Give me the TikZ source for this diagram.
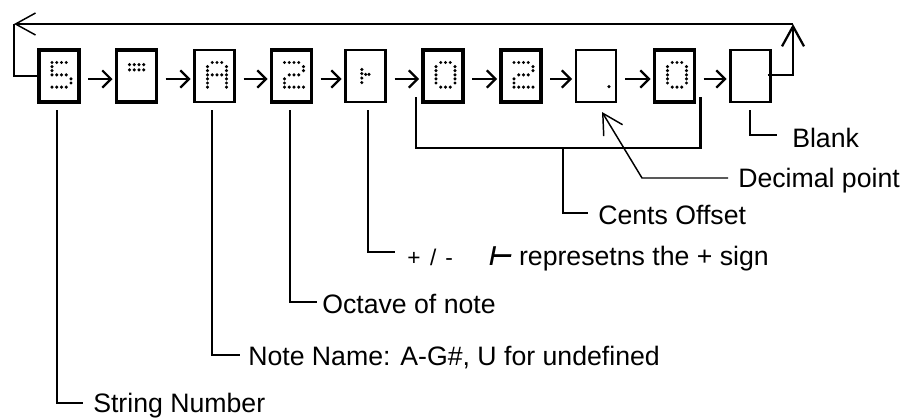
\documentclass[tikz,border=0pt]{standalone}
\usepackage{fontspec}
\setmainfont{Liberation Sans}
\newfontfamily\symfont[FakeSlant=0.2]{DejaVu Sans Bold}
\usetikzlibrary{arrows.meta}
\newcommand\dotglyph[2]{%
  \begin{scope}[shift={(#1.north west)}]
    \foreach \gx/\gy in {#2}{\fill (13+4.75*\gx,12.5+4.1*\gy) circle[radius=1.3pt];}
  \end{scope}}
\begin{document}
\begin{tikzpicture}[x=0.75pt,y=-0.75pt,
  box/.style={draw, line width=2.3pt, minimum width=30pt, minimum height=39pt, inner sep=0pt, outer sep=0pt},
  thinbox/.style={box, line width=1.6pt},
  flow/.style={line width=1.6pt, -{Straight Barb[length=6.5pt,width=13pt]}},
  bigtip/.style={-{Straight Barb[length=15pt,width=16.5pt]}},
  thicklead/.style={line width=1.7pt},
  thinlead/.style={line width=1.1pt},
  lbl/.style={font=\fontsize{20pt}{24pt}\selectfont, inner sep=0pt, anchor=base west}]
\useasboundingbox (0,0) rectangle (905,418);

% display boxes
\node[box] (b1) at (59,76) {};
\node[box] (b2) at (136.5,76) {};
\node[thinbox] (b3) at (214.5,76) {};
\node[box] (b4) at (291.5,76) {};
\node[thinbox] (b5) at (365.5,76) {};
\node[box] (b6) at (443,76) {};
\node[box] (b7) at (521,76) {};
\node[thinbox] (b8) at (596,76) {};
\node[box] (b9) at (674.5,76) {};
\node[thinbox] (b10) at (750.5,76) {};

% dot-matrix characters
\dotglyph{b1}{0/0,1/0,2/0,3/0,0/1,0/2,0/3,1/3,2/3,3/3,4/4,4/5,0/6,1/6,2/6,3/6}
\dotglyph{b2}{0/0.5,1/0.5,2/0.5,3/0.5,0/1.8,1/1.8,2/1.8,3/1.8}
\dotglyph{b3}{1/0,2/0,3/0,0/1,4/1,0/2,4/2,0/3,1/3,2/3,3/3,4/3,0/4,4/4,0/5,4/5,0/6,4/6}
\dotglyph{b4}{0/0,1/0,2/0,3/0,4/1,4/2,1/3,2/3,3/3,0/4,0/5,0/6,1/6,2/6,3/6,4/6}
\dotglyph{b5}{0.7/1.7,0.7/2.7,0.7/3.8,0.7/4.9,1.5/2.9,2.2/2.9}
\dotglyph{b6}{1/0,2/0,3/0,0/1,4/1,0/2,4/2,0/3,4/3,0/4,4/4,0/5,4/5,1/6,2/6,3/6}
\dotglyph{b7}{0/0,1/0,2/0,3/0,4/1,4/2,1/3,2/3,3/3,0/4,0/5,0/6,1/6,2/6,3/6,4/6}
\dotglyph{b8}{4.2/5.9}
\dotglyph{b9}{1/0,2/0,3/0,0/1,4/1,0/2,4/2,0/3,4/3,0/4,4/4,0/5,4/5,1/6,2/6,3/6}

% arrows between boxes
\foreach \i/\j in {1/2,2/3,3/4,4/5,5/6,6/7,7/8,8/9,9/10}
  \draw[flow] ([shift={(9,3)}]b\i.east) -- ([shift={(-4,3)}]b\j.west);

% loop back
\coordinate (tr) at (793,24);
\coordinate (tl) at (14,24);
\draw[thicklead, bigtip] ([shift={(-3,-1)}]b10.east) -| (tr);
\draw[thinlead, bigtip] (tr) -- (tl);
\draw[thicklead] (tl) |- (b1.west);

% String Number
\coordinate (eS) at (83,403);
\draw[thinlead] ([shift={(-2,8)}]b1.south) |- (eS);
\node[lbl] (tS) at (93,412) {String Number};

% Note name
\coordinate (eN) at (240,355);
\draw[thinlead] ([shift={(-2.5,8)}]b3.south) |- (eN);
\node[lbl] (tN) at (248,365) {Note Name: A-G\#, U for undefined};

% Octave
\coordinate (eO) at (317,302);
\draw[thicklead] ([shift={(-1.5,8)}]b4.south) |- (eO);
\node[lbl] (tO) at (322,313) {Octave of note};

% plus / minus
\coordinate (eP) at (395,252);
\draw[thicklead] ([shift={(2.5,8)}]b5.south) |- (eP);
\node[lbl, font=\fontsize{17pt}{20pt}\selectfont] (tP) at (407,265) {+\hspace{2.5pt} / \hspace{2pt}-};
\node[lbl] (tR) at (487,265) {{\symfont ⊢} represetns the + sign};

% Cents offset
\coordinate (cL) at ([shift={(-7,-5)}]b6.south west);
\coordinate (cR) at ([shift={(6,-5)}]b9.south east);
\coordinate (cM) at (563,148);
\draw[thicklead] (cL) |- (cM) -| (cR);
\coordinate (eC) at (588,213);
\draw[thicklead] (cM) |- (eC);
\node[lbl] (tC) at (598,224) {Cents Offset};

% Decimal point
\coordinate (dA) at (728,178);
\coordinate (dB) at (642,178);
\coordinate (dT) at ([shift={(6,10)}]b8.south);
\draw[thinlead, bigtip] (dA) -- (dB) -- (dT);
\node[lbl] (tD) at (738,187) {Decimal point};

% Blank
\coordinate (eB) at (777,135);
\draw[thicklead] ([shift={(-0.5,8)}]b10.south) |- (eB);
\node[lbl] (tB) at (792,147) {Blank};
\end{tikzpicture}
\end{document}
